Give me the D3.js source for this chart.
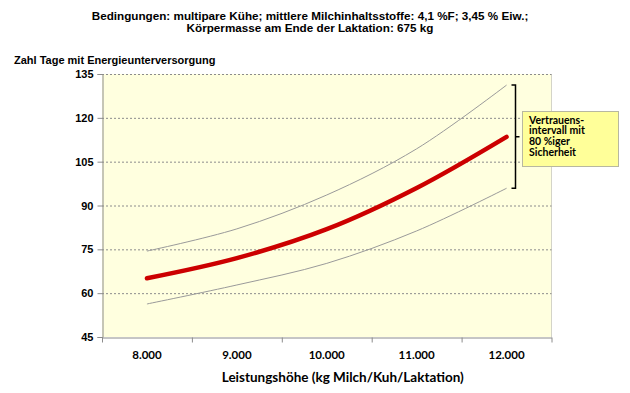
<!DOCTYPE html>
<html>
<head>
<meta charset="utf-8">
<script src="https://cdn.jsdelivr.net/npm/d3@7"></script>
<style>
  body { margin: 0; background: #fff; }
  svg { display: block; }
</style>
</head>
<body>
<div id="chart"></div>
<script>
// values
const categories = ["8.000", "9.000", "10.000", "11.000", "12.000"];
const mittel = [65.1, 72.0, 81.9, 96.0, 113.5];
const oben = [74.4, 82.0, 93.6, 109.4, 131.2];
const unten = [56.3, 62.8, 70.2, 81.3, 95.9];
const yTicks = [45, 60, 75, 90, 105, 120, 135];
const titleLines = [
  "Bedingungen: multipare Kühe; mittlere  Milchinhaltsstoffe:  4,1 %F; 3,45 % Eiw.;",
  "Körpermasse am Ende der Laktation: 675 kg"
];
const noteLines = ["Vertrauens-", "intervall mit", "80 %iger", "Sicherheit"];

const W = 630, H = 393;
const plot = { left: 102, right: 551.5, top: 74, bottom: 337 };
const arial = "'Liberation Sans', Arial, sans-serif";
const soft = "Lato, 'Open Sans', sans-serif";

const svg = d3.select("#chart").append("svg")
  .attr("width", W)
  .attr("height", H);

const x = d3.scaleBand()
  .domain(categories)
  .range([plot.left, plot.right])
  .padding(0);

const y = d3.scaleLinear()
  .domain([45, 135])
  .range([plot.bottom, plot.top]);

const cx = c => x(c) + x.bandwidth() / 2;

// plot area
svg.append("rect")
  .attr("x", plot.left)
  .attr("y", plot.top)
  .attr("width", plot.right - plot.left)
  .attr("height", plot.bottom - plot.top)
  .attr("fill", "#ffffdf");

svg.append("line")
  .attr("x1", plot.right).attr("x2", plot.right)
  .attr("y1", plot.top).attr("y2", plot.bottom)
  .attr("stroke", "#d4d4c8");

// gridlines
svg.append("g")
  .selectAll("line")
  .data(yTicks.filter(d => d > 45))
  .join("line")
  .attr("x1", plot.left).attr("x2", plot.right)
  .attr("y1", d => y(d) + 0.5).attr("y2", d => y(d) + 0.5)
  .attr("stroke", "#8c8c8c")
  .attr("stroke-dasharray", "2,2");

// y axis
const yAxis = svg.append("g")
  .attr("transform", "translate(" + (plot.left + 0.5) + ",0)")
  .call(d3.axisLeft(y).tickValues(yTicks).tickSize(5).tickPadding(4));
yAxis.select(".domain").attr("stroke", "#8c8c8c");
yAxis.selectAll(".tick line").attr("stroke", "#8c8c8c");
yAxis.selectAll(".tick text")
  .attr("font-family", arial)
  .attr("font-weight", "bold")
  .attr("font-size", 11)
  .attr("fill", "#000");

// x axis: labels in the middle, ticks between categories
const xAxis = svg.append("g")
  .attr("transform", "translate(0," + (plot.bottom + 0.5) + ")")
  .call(d3.axisBottom(x).tickSize(0).tickPadding(13));
xAxis.select(".domain").attr("stroke", "#8c8c8c");
xAxis.selectAll(".tick text")
  .attr("font-family", soft)
  .attr("font-weight", "bold")
  .attr("font-size", 11.5)
  .attr("fill", "#000");
xAxis.selectAll(".sep")
  .data(categories.map(c => x(c)).concat([plot.right]))
  .join("line")
  .attr("class", "sep")
  .attr("x1", d => d + 0.5).attr("x2", d => d + 0.5)
  .attr("y1", 0).attr("y2", 5)
  .attr("stroke", "#8c8c8c");

// lines
const line = vals => d3.line()
  .x((d, i) => cx(categories[i]))
  .y(d => y(d))
  .curve(d3.curveCatmullRom.alpha(0.5))(vals);

svg.append("path")
  .attr("d", line(oben))
  .attr("fill", "none")
  .attr("stroke", "#9a9a9a")
  .attr("stroke-width", 1);

svg.append("path")
  .attr("d", line(unten))
  .attr("fill", "none")
  .attr("stroke", "#9a9a9a")
  .attr("stroke-width", 1);

svg.append("path")
  .attr("d", line(mittel))
  .attr("fill", "none")
  .attr("stroke", "#cc0000")
  .attr("stroke-width", 4.5)
  .attr("stroke-linecap", "round");

// bracket for the interval
const last = categories.length - 1;
const bTop = y(oben[last]), bBot = y(unten[last]);
const bx = 515.5;
svg.append("path")
  .attr("d", "M" + (bx - 4) + "," + bTop + "H" + bx + "V" + bBot + "H" + (bx - 4)
    + "M" + bx + "," + ((bTop + bBot) / 2) + "H" + (bx + 4))
  .attr("fill", "none")
  .attr("stroke", "#000")
  .attr("stroke-width", 1.5);

// note box
svg.append("rect")
  .attr("x", 522.5).attr("y", 111.5)
  .attr("width", 96).attr("height", 55)
  .attr("fill", "#ffff99")
  .attr("stroke", "#b8b8a0");

svg.append("g")
  .selectAll("text")
  .data(noteLines)
  .join("text")
  .attr("x", 529)
  .attr("y", (d, i) => 123.5 + i * 10.8)
  .attr("font-family", soft)
  .attr("font-weight", "bold")
  .attr("font-size", 10.5)
  .text(d => d);

// titles
svg.append("g")
  .selectAll("text")
  .data(titleLines)
  .join("text")
  .attr("x", 310)
  .attr("y", (d, i) => 19.5 + i * 12.5)
  .attr("text-anchor", "middle")
  .attr("font-family", arial)
  .attr("font-weight", "bold")
  .attr("font-size", 11.7)
  .text(d => d);

svg.append("text")
  .attr("x", 14)
  .attr("y", 64)
  .attr("font-family", arial)
  .attr("font-weight", "bold")
  .attr("font-size", 11)
  .text("Zahl Tage mit Energieunterversorgung");

svg.append("text")
  .attr("x", (plot.left + plot.right) / 2 + 16)
  .attr("y", 382)
  .attr("text-anchor", "middle")
  .attr("font-family", soft)
  .attr("font-weight", "bold")
  .attr("font-size", 13.5)
  .text("Leistungshöhe (kg Milch/Kuh/Laktation)");
</script>
</body>
</html>
